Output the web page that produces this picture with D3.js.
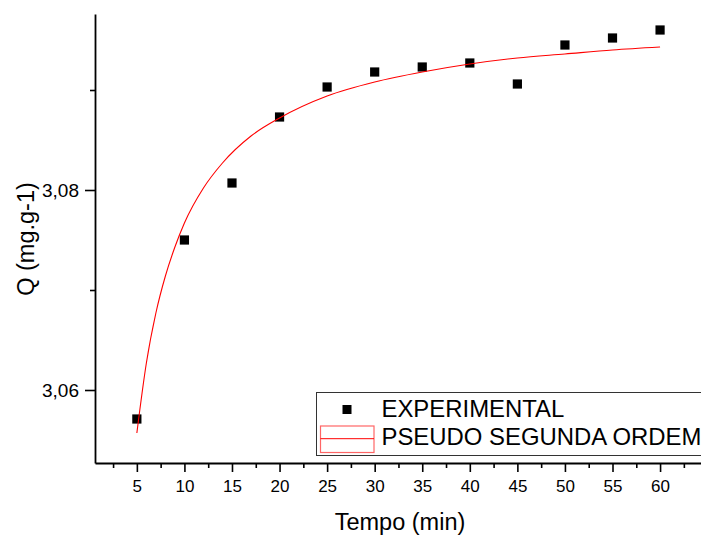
<!DOCTYPE html>
<html>
<head>
<meta charset="utf-8">
<script src="https://cdn.jsdelivr.net/npm/d3@7"></script>
<style>
  html, body { margin: 0; padding: 0; background: #fff; }
  svg { display: block; }
  text { font-family: "Liberation Sans", Arial, sans-serif; fill: #000; }
</style>
</head>
<body>
<svg id="chart" width="701" height="537"></svg>
<script>
// ---- data ----
const tempo = [5, 10, 15, 20, 25, 30, 35, 40, 45, 50, 55, 60];
const qExperimental = [3.0571, 3.0750, 3.0807, 3.0873, 3.0903, 3.0918, 3.0923, 3.0927, 3.0906, 3.0945, 3.0952, 3.0960];
const fitTempo = [5, 6, 7, 8, 9, 10, 12, 14, 17, 20, 25, 30, 35, 40, 45, 50, 55, 60];
const fitQ = [3.0557, 3.0627, 3.0677, 3.0714, 3.0743, 3.0767, 3.0802, 3.0827, 3.0854, 3.0872, 3.0894, 3.0908, 3.0918, 3.0926, 3.0932, 3.0936, 3.0940, 3.0943];
const xMajorTicks = [5, 10, 15, 20, 25, 30, 35, 40, 45, 50, 55, 60];
const xMinorTicks = [2.5, 7.5, 12.5, 17.5, 22.5, 27.5, 32.5, 37.5, 42.5, 47.5, 52.5, 57.5, 62.5];
const yMajorTicks = [3.06, 3.08];
const yMinorTicks = [3.07, 3.09];
const legendLabels = ["EXPERIMENTAL", "PSEUDO SEGUNDA ORDEM"];
const xTitle = "Tempo (min)";
const yTitle = "Q (mg.g-1)";

// ---- layout ----
const svg = d3.select("#chart");
const mLeft = 95, mTop = 14, mBottom = 463, mRight = 720;

const x = d3.scaleLinear().domain([0.6, 66.3]).range([mLeft, mRight]);
const y = d3.scaleLinear().domain([3.0527, 3.0976]).range([mBottom, mTop]);

const fmt = d => d3.format(".2f")(d).replace(".", ",");

// minor ticks
svg.append("g").attr("transform", `translate(0,${mBottom})`)
  .call(d3.axisBottom(x).tickValues(xMinorTicks).tickSize(5).tickSizeOuter(0).tickFormat(""))
  .call(g => g.select(".domain").remove());
svg.append("g").attr("transform", `translate(${mLeft},0)`)
  .call(d3.axisLeft(y).tickValues(yMinorTicks).tickSize(5).tickSizeOuter(0).tickFormat(""))
  .call(g => g.select(".domain").remove());

// major x axis
const gx = svg.append("g").attr("transform", `translate(0,${mBottom})`)
  .call(d3.axisBottom(x).tickValues(xMajorTicks).tickSize(9).tickSizeOuter(0).tickPadding(8));
gx.selectAll("text").attr("font-size", 17).attr("font-family", "Liberation Sans, Arial, sans-serif").attr("fill", "#000");

// major y axis
const gy = svg.append("g").attr("transform", `translate(${mLeft},0)`)
  .call(d3.axisLeft(y).tickValues(yMajorTicks).tickSize(10).tickSizeOuter(0).tickPadding(6).tickFormat(fmt));
gy.selectAll("text").attr("font-size", 19).attr("font-family", "Liberation Sans, Arial, sans-serif").attr("fill", "#000");

svg.selectAll(".tick line").attr("stroke", "#000").attr("stroke-width", 1.6);
svg.selectAll(".domain").attr("stroke", "#000").attr("stroke-width", 1.8);

// axis titles
svg.append("text").attr("x", 400).attr("y", 530).attr("text-anchor", "middle")
  .attr("font-size", 23.5).text(xTitle);
svg.append("text").attr("transform", "translate(34,239) rotate(-90)").attr("text-anchor", "middle")
  .attr("font-size", 23.5).text(yTitle);

// experimental points
svg.append("g").selectAll("rect").data(tempo).join("rect")
  .attr("x", (d, i) => x(d) - 4.6)
  .attr("y", (d, i) => y(qExperimental[i]) - 4.6)
  .attr("width", 9.2).attr("height", 9.2)
  .attr("fill", "#000");

// fitted curve
const line = d3.line().x((d, i) => x(fitTempo[i])).y(d => y(d)).curve(d3.curveMonotoneX);
svg.append("path").datum(fitQ).attr("d", line)
  .attr("fill", "none").attr("stroke", "#ff0000").attr("stroke-width", 1.1);

// legend
const lg = svg.append("g");
lg.append("rect").attr("x", 316.5).attr("y", 392.5).attr("width", 420).attr("height", 63)
  .attr("fill", "#fff").attr("stroke", "#333").attr("stroke-width", 1);
lg.append("rect").attr("x", 342.5).attr("y", 405).attr("width", 9).attr("height", 9).attr("fill", "#000");
lg.append("rect").attr("x", 320.5).attr("y", 426).attr("width", 53.5).attr("height", 26.5)
  .attr("fill", "none").attr("stroke", "#ff6666").attr("stroke-width", 1.2);
lg.append("line").attr("x1", 320.5).attr("x2", 374).attr("y1", 438.7).attr("y2", 438.7)
  .attr("stroke", "#ff0000").attr("stroke-width", 1);
lg.append("text").attr("x", 381.5).attr("y", 416.7).attr("font-size", 23.9).text(legendLabels[0]);
lg.append("text").attr("x", 381.5).attr("y", 445.3).attr("font-size", 23.9).text(legendLabels[1]);
</script>
</body>
</html>
